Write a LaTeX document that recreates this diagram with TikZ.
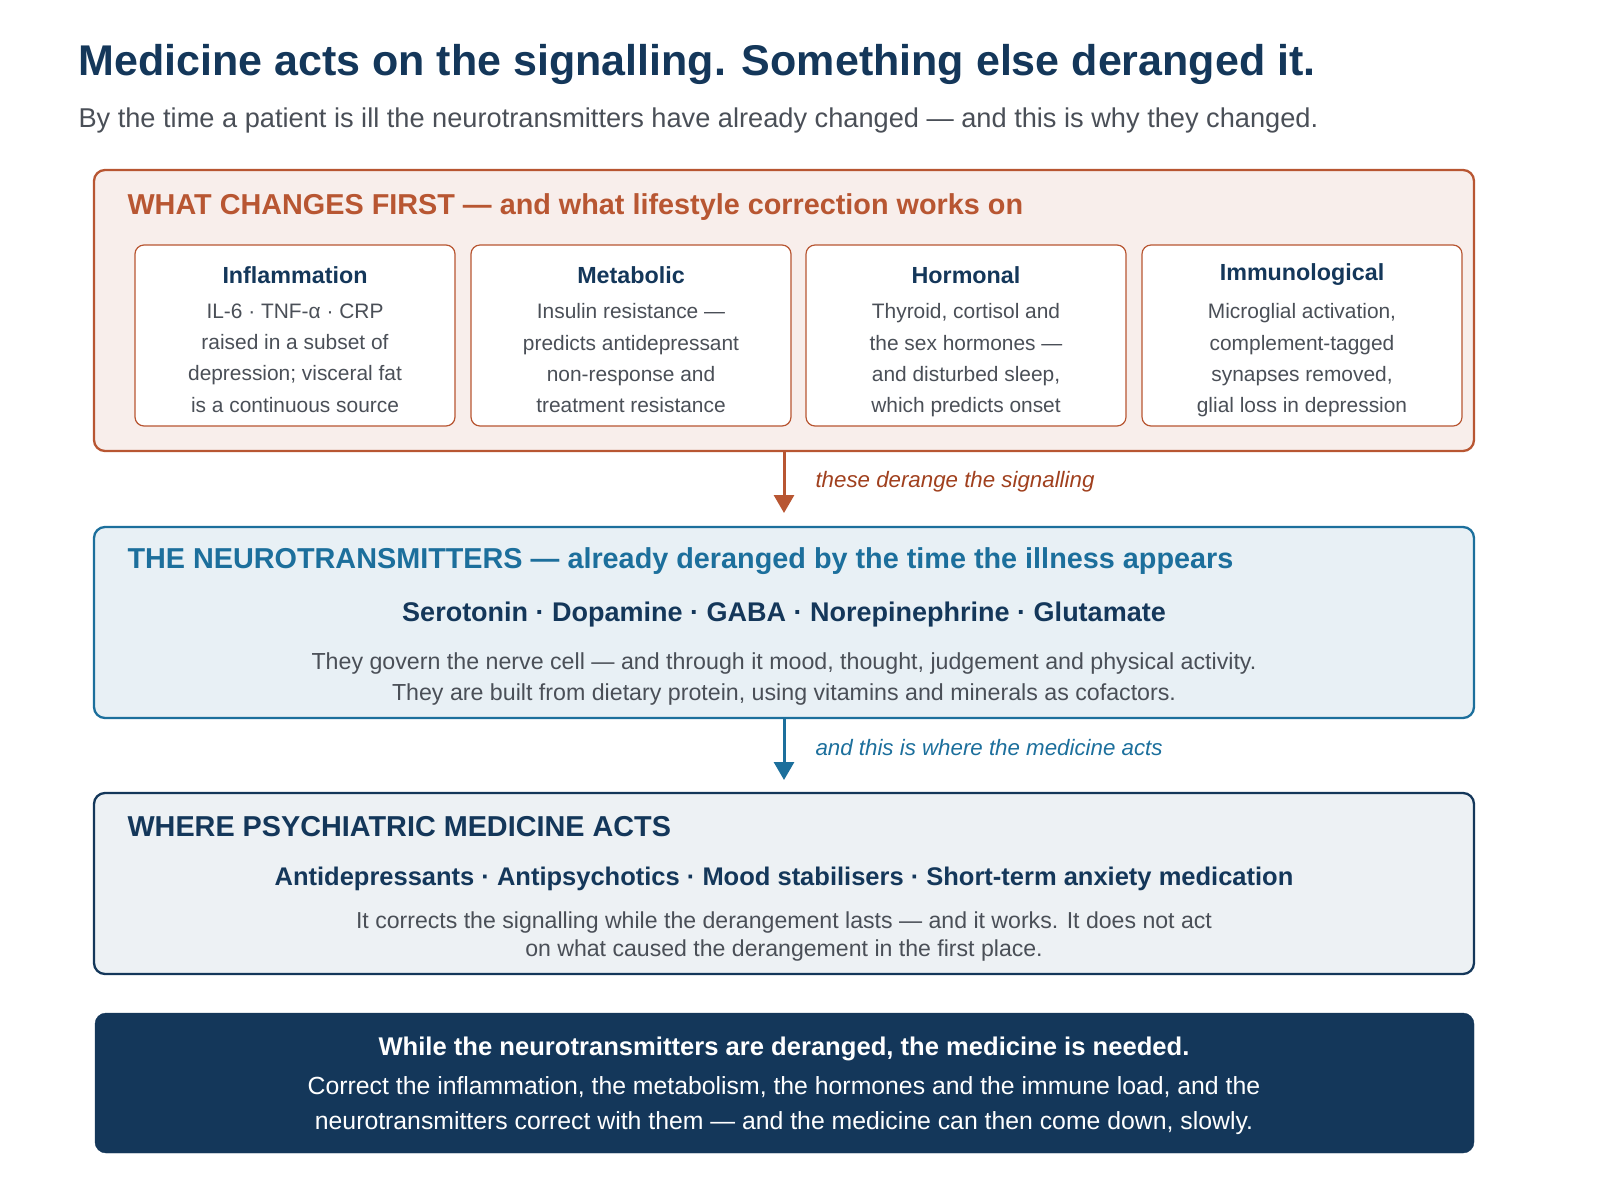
\documentclass[tikz,border=0pt]{standalone}
\usepackage{fontspec}
\setmainfont{Liberation Sans}
\usetikzlibrary{arrows.meta}
\definecolor{org}{HTML}{B85632}
\definecolor{orgfill}{HTML}{F8EEEB}
\definecolor{blu}{HTML}{1C6F9C}
\definecolor{blufill}{HTML}{E8F0F5}
\definecolor{navy}{HTML}{14375A}
\definecolor{navfill}{HTML}{EDF1F4}
\definecolor{gry}{HTML}{4A4F57}
\definecolor{arr}{HTML}{A0401E}
\begin{document}
\begin{tikzpicture}[x=1pt,y=-1pt,
  panel/.style={draw,line width=2.3pt,rounded corners=11pt},
  small/.style={draw=org,line width=1.2pt,fill=white,rounded corners=9pt},
  st/.style={font=\fontsize{23.3}{27}\selectfont\bfseries,text=navy,anchor=center},
  sb/.style={font=\fontsize{20.9}{31.4}\selectfont,text=gry,align=center,anchor=north},
  hd/.style={anchor=west,font=\fontsize{28.8}{32}\selectfont\bfseries},
  ar/.style={line width=3pt,-{Triangle[length=18pt,width=20pt]}},
  lab/.style={anchor=west,font=\fontsize{22.3}{26}\selectfont\itshape}]
\useasboundingbox (0,0) rectangle (1600,1203);
\node[anchor=west,font=\fontsize{43}{50}\selectfont\bfseries,text=navy] (title) at (75,64) {Medicine acts on the signalling. Something else deranged it.};
\node[anchor=west,font=\fontsize{27.2}{32}\selectfont,text=gry] (sub) at (75,120) {By the time a patient is ill the neurotransmitters have already changed — and this is why they changed.};
% panel 1
\draw[panel,draw=org,fill=orgfill] (94,170) rectangle (1474,451);
\coordinate (p1b) at (784,451);
\node[hd,text=org] (h1) at (124,207) {WHAT CHANGES FIRST — and what lifestyle correction works on};
\foreach \x/\t/\b [count=\i] in {
 135/Inflammation/{IL-6 · TNF-α · CRP\\raised in a subset of\\depression; visceral fat\\is a continuous source},
 471/Metabolic/{Insulin resistance —\\predicts antidepressant\\non-response and\\treatment resistance},
 806/Hormonal/{Thyroid, cortisol and\\the sex hormones —\\and disturbed sleep,\\which predicts onset},
 1142/Immunological/{Microglial activation,\\complement-tagged\\synapses removed,\\glial loss in depression}}{
  \draw[small] (\x,245) rectangle ++(320,181);
  \node[st] (t\i) at (\x+160,275) {\t};
  \node[sb] (b\i) at (\x+160,300) {\b};
}
% panel 2
\draw[panel,draw=blu,fill=blufill] (94,527) rectangle (1474,718);
\coordinate (p2t) at (784,513);
\coordinate (p2b) at (784,718);
\node[hd,text=blu] (h2) at (124,561) {THE NEUROTRANSMITTERS — already deranged by the time the illness appears};
\node[font=\fontsize{27}{32}\selectfont\bfseries,text=navy] (nt) at (784,615) {Serotonin · Dopamine · GABA · Norepinephrine · Glutamate};
\node[font=\fontsize{23.2}{30.5}\selectfont,text=gry,align=center] (nb) at (784,679) {They govern the nerve cell — and through it mood, thought, judgement and physical activity.\\They are built from dietary protein, using vitamins and minerals as cofactors.};
% panel 3
\draw[panel,draw=navy,fill=navfill] (94,793) rectangle (1474,974);
\coordinate (p3t) at (784,780);
\node[hd,text=navy] (h3) at (124,827) {WHERE PSYCHIATRIC MEDICINE ACTS};
\node[font=\fontsize{25.5}{30}\selectfont\bfseries,text=navy] (md) at (784,879) {Antidepressants · Antipsychotics · Mood stabilisers · Short-term anxiety medication};
\node[font=\fontsize{23.1}{28}\selectfont,text=gry,align=center] (mb) at (784,937) {It corrects the signalling while the derangement lasts — and it works. It does not act\\on what caused the derangement in the first place.};
% panel 4
\draw[fill=navy,draw=navy,rounded corners=11pt] (95,1013) rectangle (1474,1153);
\node[font=\fontsize{25.6}{30}\selectfont\bfseries,text=white] (c1) at (784,1049) {While the neurotransmitters are deranged, the medicine is needed.};
\node[font=\fontsize{24.8}{35}\selectfont,text=white,align=center] (c2) at (784,1106) {Correct the inflammation, the metabolism, the hormones and the immune load, and the\\neurotransmitters correct with them — and the medicine can then come down, slowly.};
% arrows
\draw[ar,draw=org] (p1b) -- (p2t);
\node[lab,text=arr] (l1) at (812,482) {these derange the signalling};
\draw[ar,draw=blu] (p2b) -- (p3t);
\node[lab,text=blu] (l2) at (812,748) {and this is where the medicine acts};
\end{tikzpicture}
\end{document}
